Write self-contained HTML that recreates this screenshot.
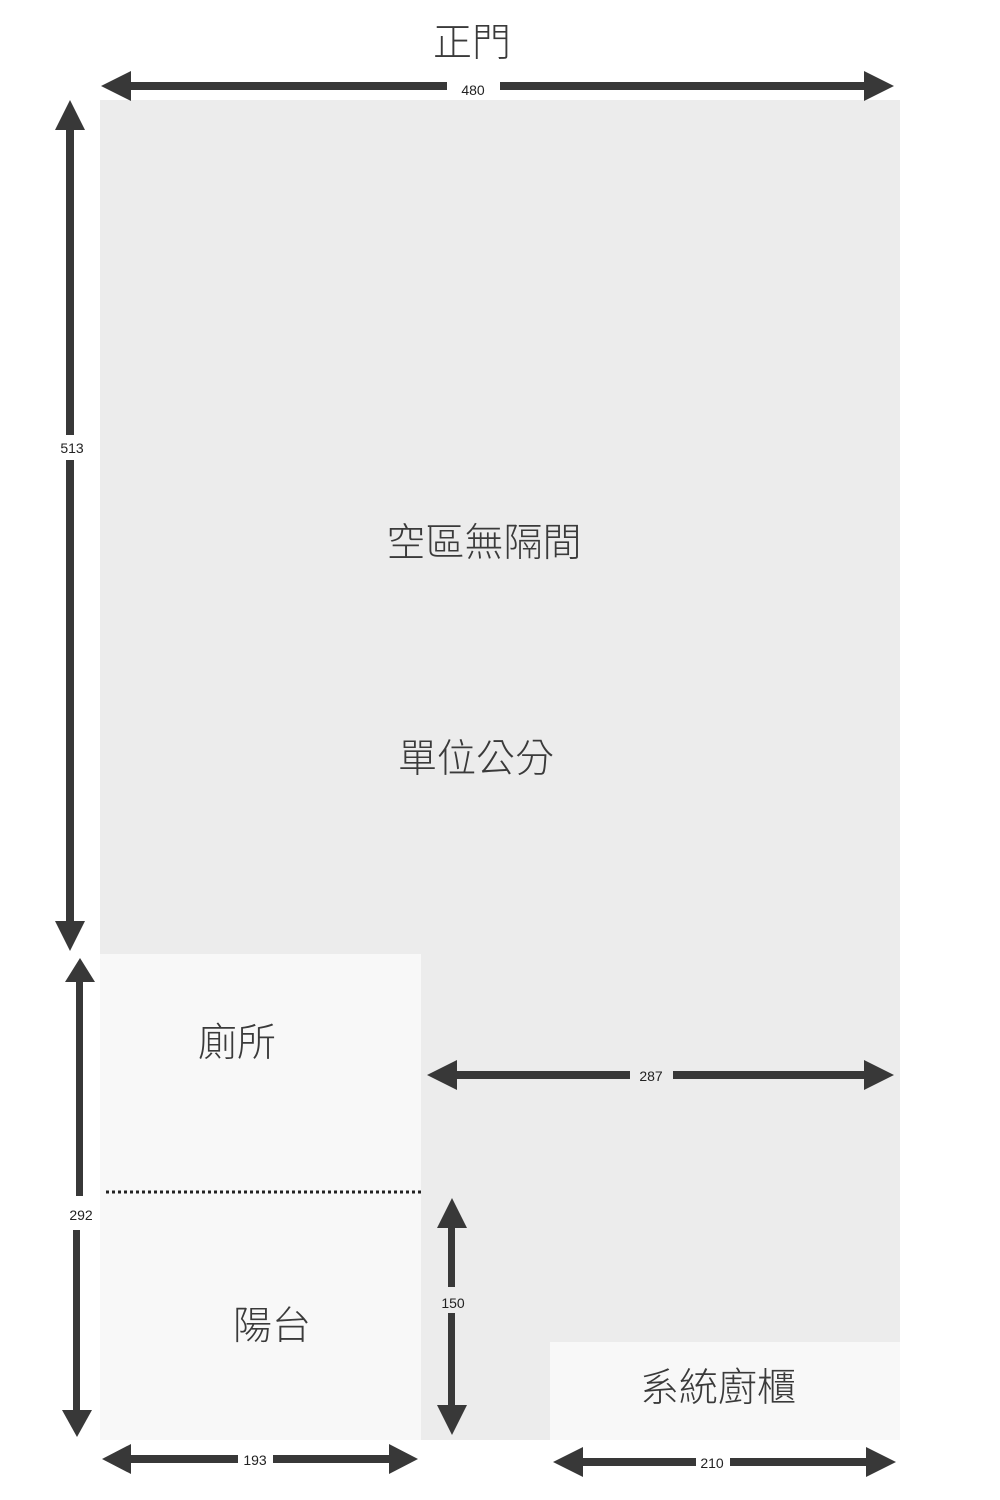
<!DOCTYPE html>
<html><head><meta charset="utf-8"><style>
body{margin:0;background:#fff;}
svg{display:block}
text{font-family:"Liberation Sans","Noto Sans CJK TC",sans-serif;fill:#333;}
.n{font-size:14px;text-anchor:middle;fill:#222}
.c{font-size:39px;text-anchor:middle;fill:#3a3a3a;font-weight:300}
</style></head><body>
<svg width="1000" height="1500" viewBox="0 0 1000 1500" xmlns="http://www.w3.org/2000/svg">
<rect x="100" y="100" width="800" height="1340" fill="#ececec"/>
<rect x="100" y="954" width="321" height="486" fill="#f8f8f8"/>
<rect x="550" y="1342" width="350" height="98" fill="#f8f8f8"/>
<line x1="106" y1="1192" x2="421" y2="1192" stroke="#222" stroke-width="3" stroke-dasharray="3,3"/>
<g fill="#383838" stroke="none">
<rect x="116" y="82" width="331" height="8"/><rect x="500" y="82" width="378" height="8"/>
<polygon points="101,86 131,71 131,101"/><polygon points="894,86 864,71 864,101"/>
<rect x="66" y="115" width="8" height="320"/><rect x="66" y="460" width="8" height="475"/>
<polygon points="70,100 55,130 85,130"/><polygon points="70,951 55,921 85,921"/>
<rect x="76" y="975" width="7" height="221"/><rect x="73" y="1230" width="7" height="192"/>
<polygon points="80,958 65,982 95,982"/><polygon points="77,1437 62,1410 92,1410"/>
<rect x="442" y="1071" width="188" height="8"/><rect x="673" y="1071" width="205" height="8"/>
<polygon points="427,1075 457,1060 457,1090"/><polygon points="894,1075 864,1060 864,1090"/>
<rect x="448" y="1215" width="7" height="72"/><rect x="448" y="1313" width="7" height="105"/>
<polygon points="452,1198 437,1228 467,1228"/><polygon points="452,1435 437,1405 467,1405"/>
<rect x="118" y="1455" width="120" height="8"/><rect x="273" y="1455" width="130" height="8"/>
<polygon points="102,1459 131,1444 131,1474"/><polygon points="418,1459 389,1444 389,1474"/>
<rect x="570" y="1458" width="126" height="8"/><rect x="730" y="1458" width="150" height="8"/>
<polygon points="553,1462 583,1447 583,1477"/><polygon points="896,1462 866,1447 866,1477"/>
</g>
<text class="n" x="473" y="95">480</text>
<text class="n" x="72" y="453">513</text>
<text class="n" x="81" y="1220">292</text>
<text class="n" x="651" y="1081">287</text>
<text class="n" x="453" y="1308">150</text>
<text class="n" x="255" y="1465">193</text>
<text class="n" x="712" y="1468">210</text>
<text class="c" x="472" y="56">正門</text>
<text class="c" x="484" y="556">空區無隔間</text>
<text class="c" x="476" y="772">單位公分</text>
<text class="c" x="237" y="1056">廁所</text>
<text class="c" x="272" y="1339">陽台</text>
<text class="c" x="718" y="1401">系統廚櫃</text>
</svg>
</body></html>
